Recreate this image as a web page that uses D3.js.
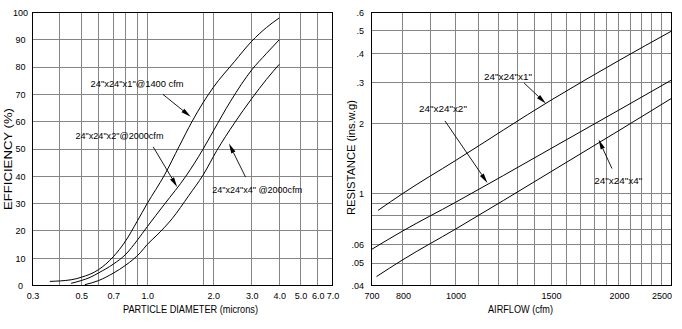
<!DOCTYPE html>
<html><head><meta charset="utf-8">
<script src="https://cdn.jsdelivr.net/npm/d3@7"></script>
<style>
html,body{margin:0;padding:0;background:#fff;}
svg{display:block;font-family:"Liberation Sans",Arial,Helvetica,sans-serif;}
</style></head><body>
<svg id="c" width="682" height="329"></svg>
<script>
// ---------------- DATA ----------------
// Left chart: efficiency (%) vs particle diameter (microns)
const diam1 = [0.36,0.45,0.5,0.6,0.7,0.8,0.9,1.0,1.2,1.4,1.6,1.8,2.0,2.5,3.0,3.5,4.0];
const eff1  = [1.5,2.1,3.0,5.8,10.5,16.5,23.5,30,40.5,51,60,67,72.5,82,89.5,94.5,98];
const diam2 = [0.45,0.5,0.55,0.6,0.7,0.8,0.9,1.0,1.2,1.5,1.8,2.0,2.4,3.0,3.5,4.0];
const eff2  = [0.8,1.8,3.0,4.6,7.8,11.5,16.5,21.5,29.8,40,50,56.5,67.5,79,85,90];
const diam4 = [0.52,0.6,0.7,0.8,0.93,1.0,1.11,1.3,1.55,1.8,2.08,2.5,3.0,3.5,4.0];
const eff4  = [0.3,1.8,4.5,7.5,12,15,18.5,24.5,33,40.5,49.5,59.5,68.5,75.5,81];
const effTicks = [0,10,20,30,40,50,60,70,80,90,100];
const diamTicks = [0.3,0.5,0.7,1.0,2.0,3.0,4.0,5.0,6.0,7.0];
const diamGrid = [0.4,0.5,0.6,0.7,0.8,0.9,1.0,1.8,2.0,3.0,4.0,5.0,6.0];

// Right chart: resistance (ins. w.g.) vs airflow (cfm)
const air1 = [720,800,1000,1500,2000,2500];
const res1 = [0.0843,0.0998,0.1382,0.2516,0.3727,0.499];
const air2 = [700,800,1000,1500,2000,2500];
const res2 = [0.0572,0.0688,0.0913,0.1558,0.228,0.307];
const air4 = [715,800,1000,1500,2000,2500];
const res4 = [0.0437,0.0517,0.070,0.1238,0.186,0.256];
const airTicks = [700,800,1000,1500,2000,2500];
const airGrid = [800,900,1000,1100,1200,1300,1400,1500,1600,1700,1800,1900,2000,2100,2200,2300,2400];
const resGrid = [0.04,0.05,0.06,0.07,0.08,0.09,0.1,0.2,0.3,0.4,0.5];
const resTicks = [0.6,0.5,0.4,0.3,0.2,0.1,0.06,0.05,0.04];
const resTickText = [".6",".5",".4",".3","2","1",".06",".05",".04"];

// annotations (in data units)
const leftNotes = [
  {text:'24"x24"x1"@1400 cfm', at:[0.552,72.8], w:93, from:[1.18,70.0], to:[1.58,61.8]},
  {text:'24"x24"x2"@2000cfm', at:[0.471,53.8], w:88, from:[1.065,50.8], to:[1.37,36.1]},
  {text:'24"x24"x4" @2000cfm', at:[1.979,33.8], w:90, from:[2.81,39.7], to:[2.36,52]}
];
const rightNotes = [
  {text:'24"x24"x1"', at:[1128,0.3083], w:48, from:[1338,0.2978], to:[1467,0.2433]},
  {text:'24"x24"x2"', at:[856,0.2243], w:48, from:[956,0.2047], to:[1145,0.1106]},
  {text:'24"x24"x4"', at:[1802,0.1091], w:48, from:[1942,0.1276], to:[1835,0.1702]}
];

// ---------------- DRAW ----------------
const svg = d3.select("#c");
const crisp = v => Math.round(v - 0.5) + 0.5;
const GRID = "#858585";

const xL = d3.scaleLog().domain([0.3,7]).range([32.5,332.5]);
const yL = d3.scaleLinear().domain([0,100]).range([285.5,12.5]);
const xR = d3.scaleLog().domain([700,2500]).range([371.5,671.5]);
const yR = d3.scaleLog().domain([0.04,0.6]).range([285.5,12.5]);

function panel(x, y, xGrid, yGrid) {
  const g = svg.append("g");
  const [x0,x1] = x.range(), [y0,y1] = y.range();
  g.selectAll("line.vg").data(xGrid).join("line")
    .attr("x1", d=>crisp(x(d))).attr("x2", d=>crisp(x(d)))
    .attr("y1", y1).attr("y2", y0)
    .attr("stroke", GRID).attr("stroke-width",1).attr("shape-rendering","crispEdges");
  g.selectAll("line.hg").data(yGrid).join("line")
    .attr("y1", d=>crisp(y(d))).attr("y2", d=>crisp(y(d)))
    .attr("x1", x0).attr("x2", x1)
    .attr("stroke", GRID).attr("stroke-width",1).attr("shape-rendering","crispEdges");
  g.append("rect").attr("x",x0).attr("y",y1).attr("width",x1-x0).attr("height",y0-y1)
    .attr("fill","none").attr("stroke","#000").attr("stroke-width",1).attr("shape-rendering","crispEdges");
  return g;
}

panel(xL, yL, diamGrid, effTicks.slice(1,-1));
panel(xR, yR, airGrid, resGrid.slice(1));

// curves
function curve(x, y, xs, ys, interp) {
  const pts = xs.map((v,i)=>[v, ys[i]]);
  svg.append("path").datum(pts)
    .attr("d", d3.line().x(d=>x(d[0])).y(d=>y(d[1])).curve(interp))
    .attr("fill","none").attr("stroke","#000").attr("stroke-width",1);
}
curve(xL, yL, diam1, eff1, d3.curveMonotoneX);
curve(xL, yL, diam2, eff2, d3.curveMonotoneX);
curve(xL, yL, diam4, eff4, d3.curveMonotoneX);
curve(xR, yR, air1, res1, d3.curveMonotoneX);
curve(xR, yR, air2, res2, d3.curveMonotoneX);
curve(xR, yR, air4, res4, d3.curveMonotoneX);

// axes labels
const fmt1 = d3.format(".1f");
const axL = svg.append("g").attr("transform","translate(0,285)")
  .call(d3.axisBottom(xL).tickValues(diamTicks).tickFormat(fmt1).tickSize(0));
axL.select(".domain").remove();
axL.selectAll("text").attr("y",7.5).attr("font-size",9).attr("font-family",null).attr("fill","#000");

const ayL = svg.append("g").attr("transform","translate(32,0)")
  .call(d3.axisLeft(yL).tickValues(effTicks).tickFormat(d3.format("d")).tickSize(0));
ayL.select(".domain").remove();
ayL.selectAll("text").attr("x",-11.5).attr("text-anchor","middle").attr("font-size",9).attr("font-family",null).attr("fill","#000");

const axR = svg.append("g").attr("transform","translate(0,285)")
  .call(d3.axisBottom(xR).tickValues(airTicks).tickFormat(d3.format("d")).tickSize(0));
axR.select(".domain").remove();
axR.selectAll("text").attr("y",7.5).attr("font-size",9).attr("font-family",null).attr("fill","#000")
  .attr("text-anchor", d => d === airTicks[airTicks.length-1] ? "end" : "middle");

const ayR = svg.append("g").attr("transform","translate(371,0)")
  .call(d3.axisLeft(yR).tickValues(resTicks).tickFormat((d,i)=>resTickText[i]).tickSize(0));
ayR.select(".domain").remove();
ayR.selectAll("text").attr("x",-7).attr("text-anchor","end").attr("font-size",9).attr("font-family",null).attr("fill","#000");

// axis titles
function title(txt, x, y, w, rot) {
  const t = svg.append("text").text(txt)
    .attr("font-size",10.5).attr("fill","#000").attr("text-anchor","middle")
    .attr("textLength", w).attr("lengthAdjust","spacingAndGlyphs");
  if (rot) t.attr("transform",`translate(${x},${y}) rotate(-90)`);
  else t.attr("x",x).attr("y",y);
}
title("PARTICLE DIAMETER (microns)", 190.5, 313, 135, false);
title("EFFICIENCY (%)", 11.5, 159, 102, true);
title("AIRFLOW (cfm)", 520.5, 313, 65, false);
title("RESISTANCE (ins.w.g)", 354.5, 157.5, 115, true);

// annotations with arrows
function arrow(p0, p1) {
  const dx = p1[0]-p0[0], dy = p1[1]-p0[1], L = Math.hypot(dx,dy);
  const ux = dx/L, uy = dy/L, hl = 10, hw = 2.3;
  const bx = p1[0]-ux*hl, by = p1[1]-uy*hl;
  svg.append("line").attr("x1",p0[0]).attr("y1",p0[1]).attr("x2",bx).attr("y2",by)
    .attr("stroke","#000").attr("stroke-width",0.9);
  svg.append("path")
    .attr("d",`M${p1[0]},${p1[1]}L${bx-uy*hw},${by+ux*hw}L${bx+uy*hw},${by-ux*hw}Z`)
    .attr("fill","#000");
}
function notes(arr, x, y) {
  arr.forEach(n => {
    svg.append("text").text(n.text)
      .attr("x", x(n.at[0])).attr("y", y(n.at[1]))
      .attr("font-size", 9).attr("fill","#000")
      .attr("textLength", n.w).attr("lengthAdjust","spacingAndGlyphs");
    arrow([x(n.from[0]), y(n.from[1])], [x(n.to[0]), y(n.to[1])]);
  });
}
notes(leftNotes, xL, yL);
notes(rightNotes, xR, yR);
</script>
</body></html>
